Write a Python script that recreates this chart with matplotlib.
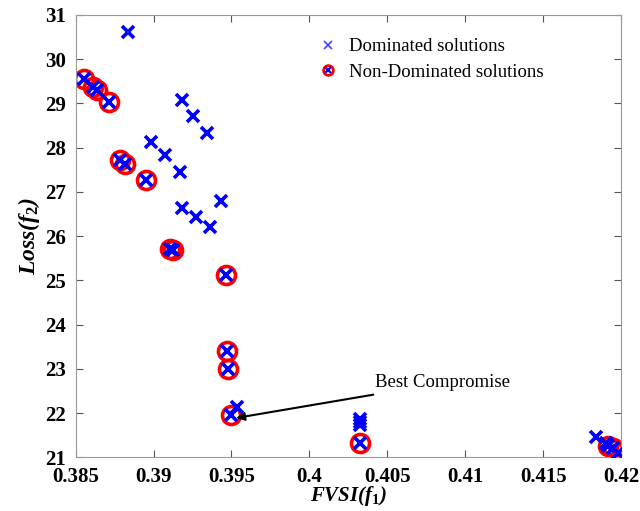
import numpy as np
import matplotlib.pyplot as plt
from matplotlib.lines import Line2D
from matplotlib.legend_handler import HandlerTuple

plt.rcParams['font.family'] = ['Liberation Serif', 'DejaVu Serif']
plt.rcParams['mathtext.fontset'] = 'custom'
plt.rcParams['mathtext.it'] = 'Liberation Serif:italic:bold'
plt.rcParams['mathtext.rm'] = 'Liberation Serif:bold'

# Dominated solutions (blue x only)
dom_f1 = [0.38835, 0.39180, 0.39254, 0.39342, 0.38983, 0.39074, 0.39169,
          0.39180, 0.39271, 0.39361, 0.39431, 0.39536, 0.40327, 0.40327,
          0.40327, 0.41840, 0.41900]
dom_f2 = [30.62, 29.08, 28.71, 28.34, 28.12, 27.84, 27.44,
          26.64, 26.43, 26.20, 26.79, 22.13, 21.86, 21.79,
          21.73, 21.47, 21.33]

# Non-dominated solutions (Pareto front)
nd_f1 = [0.38553, 0.38613, 0.38638, 0.38713, 0.38784, 0.38816, 0.38949,
         0.39105, 0.39125, 0.39463, 0.39470, 0.39475, 0.39500, 0.40327,
         0.41914, 0.41946, 0.41978]
nd_f2 = [29.55, 29.37, 29.29, 29.03, 27.71, 27.64, 27.26,
         25.71, 25.69, 25.12, 23.40, 22.99, 21.96, 21.32,
         21.26, 21.21, 21.10]

best = (0.3950, 21.96)

fig = plt.figure(figsize=(6.4, 5.11), dpi=100)
ax = fig.add_axes([0.118, 0.105, 0.853, 0.866])

ax.plot(nd_f1, nd_f2, 'o', mfc='none', mec='red', ms=13, mew=2.6, zorder=2)
ax.plot(dom_f1 + nd_f1, dom_f2 + nd_f2, 'x', color='blue', ms=8, mew=2.6, zorder=3)

ax.annotate('Best Compromise', xy=(best[0] + 0.0003, best[1] - 0.07),
            xytext=(0.4042, 22.58), fontsize=13.5,
            arrowprops=dict(arrowstyle='-|>', color='black', lw=1.5,
                            mutation_scale=12, shrinkA=2, shrinkB=0))

ax.set_xlim(0.385, 0.42)
ax.set_ylim(21, 31)
ax.set_xticks([0.385, 0.39, 0.395, 0.4, 0.405, 0.41, 0.415, 0.42])
ax.set_xticklabels(['0.385', '0.39', '0.395', '0.4', '0.405', '0.41', '0.415', '0.42'])
ax.set_yticks(range(21, 32))
ax.tick_params(direction='in', top=True, right=True, length=5, color='#555555',
               labelsize=15)
ax.tick_params(axis='x', pad=7)
ax.tick_params(axis='y', pad=7)
for lbl in ax.get_xticklabels() + ax.get_yticklabels():
    lbl.set_fontweight('bold')
for s in ax.spines.values():
    s.set_color('#999999')
    s.set_linewidth(0.8)

ax.set_xlabel('FVSI(f$_1$)', fontsize=15, fontweight='bold', style='italic', labelpad=-2)
ax.set_ylabel('Loss(f$_2$)', fontsize=17, fontweight='bold', style='italic', labelpad=2)

h_dom = Line2D([], [], ls='none', marker='x', color='#4040ff', ms=6, mew=1.2)
h_nd_c = Line2D([], [], ls='none', marker='o', mfc='none', mec='red', ms=7, mew=2)
h_nd_x = Line2D([], [], ls='none', marker='x', color='blue', ms=4, mew=1.5)
ax.legend([h_dom, (h_nd_c, h_nd_x)], ['Dominated solutions', 'Non-Dominated solutions'],
          handler_map={tuple: HandlerTuple(ndivide=1, pad=0)},
          loc='upper left', bbox_to_anchor=(0.415, 0.985), frameon=False,
          fontsize=13.5, handlelength=1.0, handletextpad=0.6, labelspacing=0.45)

fig.savefig('out.png', dpi=100)
